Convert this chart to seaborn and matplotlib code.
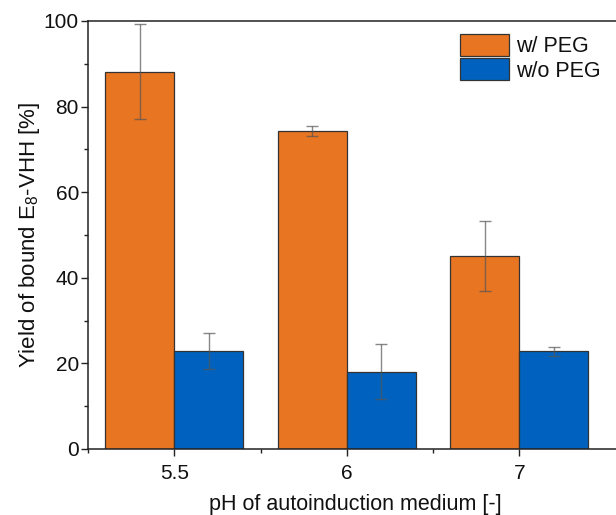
import matplotlib
matplotlib.use("Agg")
import matplotlib.pyplot as plt
import seaborn as sns
import pandas as pd
import numpy as np
from matplotlib.ticker import FixedLocator, MultipleLocator

sns.set_style("ticks")
plt.rcParams['font.family'] = ['Liberation Sans', 'DejaVu Sans']
plt.rcParams['mathtext.default'] = 'regular'
plt.rcParams['text.color'] = '#111111'
plt.rcParams['axes.labelcolor'] = '#111111'
plt.rcParams['xtick.color'] = '#111111'
plt.rcParams['ytick.color'] = '#111111'

categories = ["5.5", "6", "7"]
series = ["w/ PEG", "w/o PEG"]
with_peg = [88.1, 74.3, 45.0]
with_peg_err = [11.1, 1.2, 8.2]
without_peg = [22.9, 18.1, 22.8]
without_peg_err = [4.3, 6.5, 1.0]
colors = ["#E87522", "#0062BE"]

df = pd.DataFrame({
    "pH": categories * 2,
    "group": [series[0]] * 3 + [series[1]] * 3,
    "yield": with_peg + without_peg,
})
errs = {series[0]: with_peg_err, series[1]: without_peg_err}

fig = plt.figure(figsize=(6.16, 5.15), dpi=100)
ax = fig.add_axes([88 / 616, 66 / 515, 534.75 / 616, 428 / 515])

sns.barplot(data=df, x="pH", y="yield", hue="group", order=categories,
            hue_order=series, palette=colors, width=0.8, gap=0,
            errorbar=None, edgecolor="#333333", linewidth=0.9,
            saturation=1, ax=ax, legend=True)

for cont, name in zip(ax.containers, series):
    xs = [p.get_x() + p.get_width() / 2 for p in cont.patches]
    ys = [p.get_height() for p in cont.patches]
    ax.errorbar(xs, ys, yerr=errs[name], fmt="none", ecolor="#555555",
                elinewidth=1.0, capsize=4, capthick=1.0, alpha=0.7, zorder=5)

ax.set_xlim(-0.5, 2.6)
ax.set_ylim(0, 100)
ax.yaxis.set_major_locator(MultipleLocator(20))
ax.yaxis.set_minor_locator(MultipleLocator(10))
ax.xaxis.set_minor_locator(FixedLocator([-0.5, 0.5, 1.5]))
ax.tick_params(axis="both", which="major", direction="out", length=5,
               width=1.0, labelsize=15, color="#222222")
ax.tick_params(axis="y", which="major", pad=1.5)
ax.tick_params(axis="x", which="major", pad=5.5)
ax.tick_params(axis="both", which="minor", direction="out", length=3,
               width=1.0, color="#222222")
for s in ax.spines.values():
    s.set_linewidth(1.1)
    s.set_color("#222222")

ax.set_xlabel("pH of autoinduction medium [-]", fontsize=15.5, labelpad=8)
ax.set_ylabel("Yield of bound E$_8$-VHH [%]", fontsize=16, labelpad=1)

handles, labels = ax.get_legend_handles_labels()
ax.legend(handles, labels, loc="upper left",
          bbox_to_anchor=(447 / 616, 1 - 21 / 515),
          bbox_transform=fig.transFigure, frameon=False, fontsize=15.5,
          handlelength=2.3, handleheight=1.2, labelspacing=0.05,
          handletextpad=0.3, borderpad=0.1)

fig.savefig("out.png", dpi=100)
